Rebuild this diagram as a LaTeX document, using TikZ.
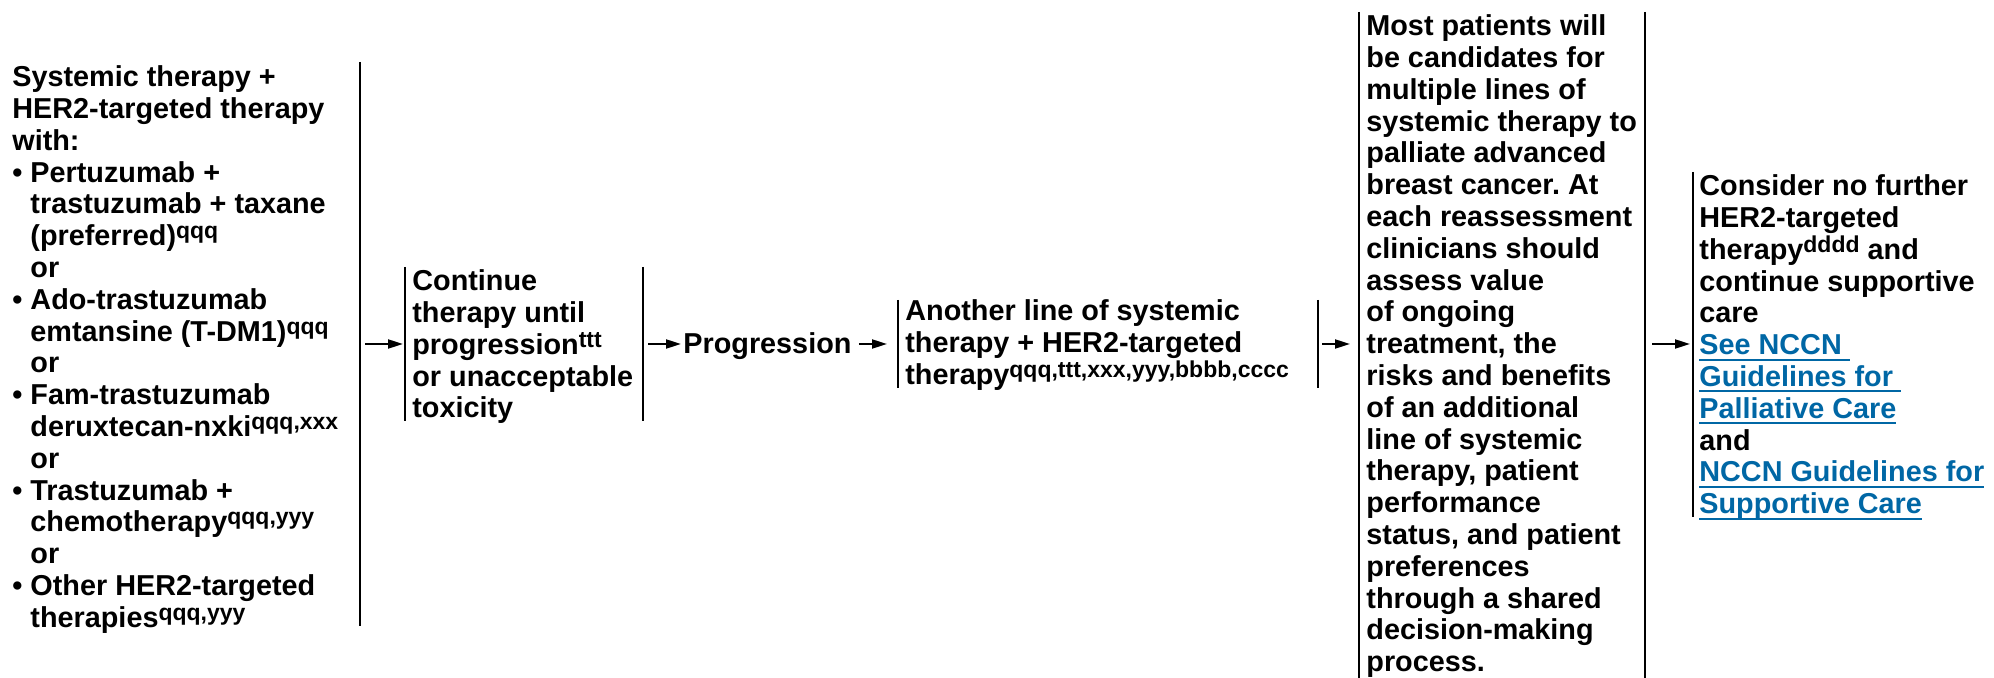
\documentclass[tikz,border=0pt]{standalone}
\usepackage{fontspec}
\setmainfont{Liberation Sans}
\usetikzlibrary{arrows.meta}
\definecolor{linkblue}{HTML}{0067A5}
\newcommand{\sps}[1]{\raisebox{3.5pt}{\fontsize{11.5}{12}\selectfont #1}}
\newcommand{\lnk}[1]{{\color{linkblue}\setbox0\hbox{#1}\rlap{\rule[-3pt]{\wd0}{1pt}}\box0}}
\newcommand{\ind}{\hphantom{\textbullet\ }}
\tikzset{
  txt/.style={anchor=north west, inner sep=0pt, align=left,
    font=\fontsize{14.4}{15.9}\selectfont\bfseries\frenchspacing},
  frm/.style={draw=none, inner sep=0pt, outer sep=0pt},
  bar/.style={line width=1.3pt},
  arr/.style={line width=1pt, -{Triangle[length=7.5pt,width=4.5pt]}}
}
\begin{document}
\begin{tikzpicture}[x=0.5pt,y=-0.5pt]
\useasboundingbox (0,0) rectangle (1994,678);
% frames
\node[frm, minimum width=180pt, minimum height=282pt] (f1) at (180,344) {};
\node[frm, minimum width=119pt, minimum height=77pt] (f2) at (524,344) {};
\node[frm, minimum width=210pt, minimum height=44pt] (f3) at (1108,344) {};
\node[frm, minimum width=143pt, minimum height=334pt] (f4) at (1502,346) {};
\node[frm, minimum width=148.5pt, minimum height=172.5pt] (f5) at (1841.5,344.5) {};
% texts
\node[txt] (L) at (12,64) {\strut Systemic therapy +\\
HER2-targeted therapy\\
with:\\
\textbullet\ Pertuzumab +\\
\ind trastuzumab + taxane\\
\ind (preferred)\sps{qqq}\\
\ind or\\
\textbullet\ Ado-trastuzumab\\
\ind emtansine (T-DM1)\sps{qqq}\\
\ind or\\
\textbullet\ Fam-trastuzumab\\
\ind deruxtecan-nxki\sps{qqq,xxx}\\
\ind or\\
\textbullet\ Trastuzumab +\\
\ind chemotherapy\sps{qqq,yyy}\\
\ind or\\
\textbullet\ Other HER2-targeted\\
\ind therapies\sps{qqq,yyy}};
\node[txt] (C) at (412,268) {\strut Continue\\
therapy until\\
progression\sps{ttt}\\
or unacceptable\\
toxicity};
\node[txt, anchor=base west] (P) at (683,354) {Progression};
\node[txt] (A) at (905,298) {\strut Another line of systemic\\
therapy + HER2-targeted\\
therapy\sps{qqq,ttt,xxx,yyy,bbbb,cccc}};
\node[txt] (M) at (1366,13) {\strut Most patients will\\
be candidates for\\
multiple lines of\\
systemic therapy to\\
palliate advanced\\
breast cancer. At\\
each reassessment\\
clinicians should\\
assess value\\
of ongoing\\
treatment, the\\
risks and benefits\\
of an additional\\
line of systemic\\
therapy, patient\\
performance\\
status, and patient\\
preferences\\
through a shared\\
decision-making\\
process.};
\node[txt] (S) at (1699,173) {\strut Consider no further\\
HER2-targeted\\
therapy\sps{dddd} and\\
continue supportive\\
care\\
\lnk{See NCCN\ }\\
\lnk{Guidelines for\ }\\
\lnk{Palliative Care}\\
and\\
\lnk{NCCN Guidelines for}\\
\lnk{Supportive Care}};
% bars
\draw[bar] (f1.north east) -- (f1.south east);
\draw[bar] (f2.north west) -- (f2.south west);
\draw[bar] (f2.north east) -- (f2.south east);
\draw[bar] (f3.north west) -- (f3.south west);
\draw[bar] (f3.north east) -- (f3.south east);
\draw[bar] (f4.north west) -- (f4.south west);
\draw[bar] (f4.north east) -- (f4.south east);
\draw[bar] (f5.north west) -- (f5.south west);
% arrows
\draw[arr, shorten <=2.5pt, shorten >=1pt] (f1.east) -- (f2.west |- f1.east);
\draw[arr, shorten <=2.5pt, shorten >=1pt] (f2.east) -- (P.west |- f2.east);
\draw[arr, shorten <=3.5pt, shorten >=5.5pt] (P.east |- f3.west) -- (f3.west);
\draw[arr, shorten <=2pt, shorten >=4.5pt] (f3.east) -- (f4.west |- f3.east);
\draw[arr, shorten <=3.5pt, shorten >=1.5pt] (f4.east |- f3.east) -- (f5.west |- f3.east);
\end{tikzpicture}
\end{document}
